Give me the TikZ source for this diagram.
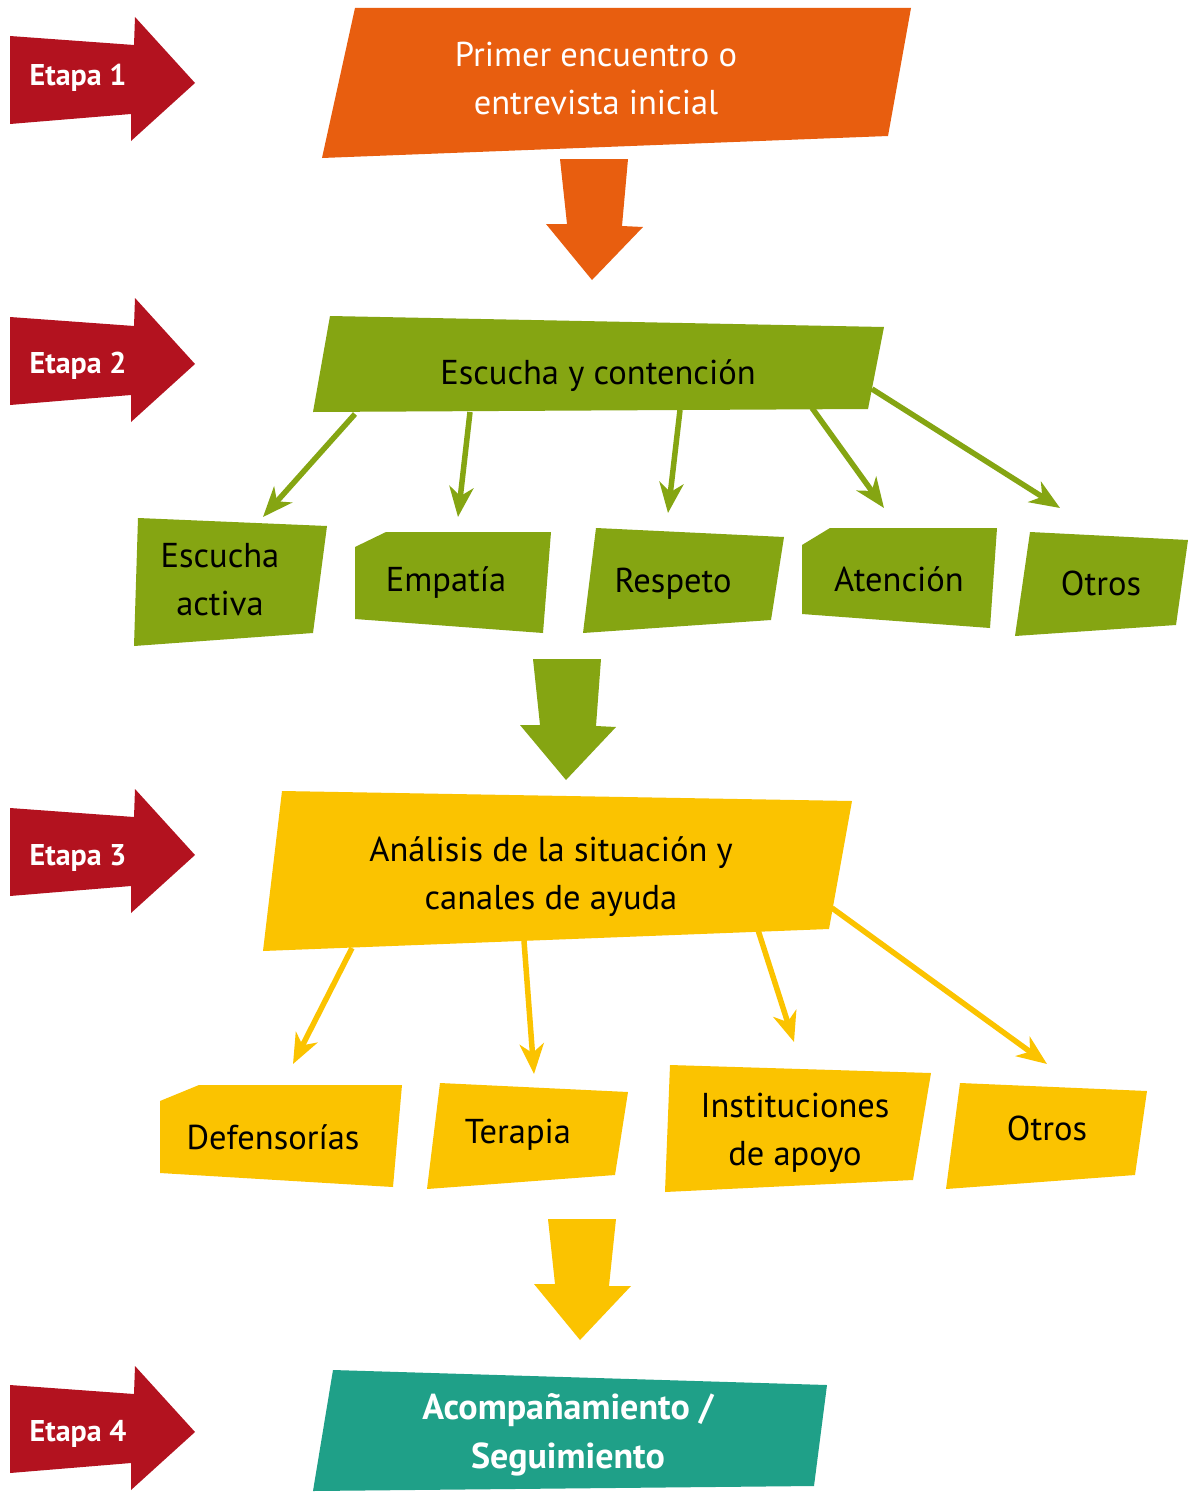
\documentclass[tikz,border=0pt]{standalone}
\usepackage{fontspec}
\setmainfont{PT Sans}
\usetikzlibrary{arrows.meta}
\definecolor{cOrange}{HTML}{E85E0F}
\definecolor{cGreen}{HTML}{85A512}
\definecolor{cYellow}{HTML}{FBC300}
\definecolor{cTeal}{HTML}{1FA088}
\definecolor{cRed}{HTML}{B3121F}
\tikzset{
  txt/.style={align=center, inner sep=0pt, yshift=-3pt, font=\fontsize{34.5}{48}\selectfont},
  wtxt/.style={txt, text=white},
  btxt/.style={txt, text=white, font=\fontsize{36}{49}\selectfont\bfseries},
  etxt/.style={inner sep=0pt, yshift=-3pt, text=white, font=\fontsize{30}{34}\selectfont\bfseries},
  garrow/.style={draw=cGreen, line width=5.5pt, -{Stealth[length=30pt, width=24pt, inset=9pt]}},
  yarrow/.style={draw=cYellow, line width=5.5pt, -{Stealth[length=30pt, width=24pt, inset=9pt]}},
}
\begin{document}
\begin{tikzpicture}[x=1pt,y=-1pt]
\useasboundingbox[fill=white] (0,0) rectangle (1192,1493);

% Etapa arrows
\foreach \dy/\n/\ty in {0/1/75,281/2/82,772/3/83,1349/4/82}{
  \begin{scope}[shift={(0,\dy)}]
    \fill[cRed] (10,36) -- (134,45) -- (135,17) -- (195,83) -- (131,141) -- (131,114) -- (10,124) -- cycle;
    \node[etxt] (e\n) at (78,\ty) {Etapa \n};
  \end{scope}
}

% Stage 1
\fill[cOrange] (355,8) -- (911,8) -- (888,136) -- (322,158) -- cycle;
\node[wtxt] (s1) at (596,75) {Primer encuentro o\\entrevista inicial};
\fill[cOrange] (560,159) -- (628,159) -- (622,226) -- (643,227) -- (592,280) -- (546,224) -- (567,224) -- cycle;

% Stage 2
\fill[cGreen] (330,316) -- (884,327) -- (868,409) -- (313,412) -- cycle;
\node[txt] (s2) at (598,373) {Escucha y contención};

\fill[cGreen] (138,518) -- (327,526) -- (313,633) -- (134,646) -- cycle;
\node[txt] (g1) at (220,577) {Escucha\\activa};
\fill[cGreen] (355,547) -- (386,532) -- (551,532) -- (543,633) -- (355,619) -- cycle;
\node[txt] (g2) at (446,580) {Empatía};
\fill[cGreen] (596,528) -- (784,537) -- (771,620) -- (583,633) -- cycle;
\node[txt] (g3) at (673,581) {Respeto};
\fill[cGreen] (802,545) -- (830,528) -- (997,528) -- (990,628) -- (802,614) -- cycle;
\node[txt] (g4) at (899,576) {Atención};
\fill[cGreen] (1030,532) -- (1188,540) -- (1176,625) -- (1015,636) -- cycle;
\node[txt] (g5) at (1101,580) {Otros};

\coordinate (ga1) at (355,414); \coordinate (gb1) at (263,517);
\coordinate (ga2) at (470,412); \coordinate (gb2) at (458,517);
\coordinate (ga3) at (680,410); \coordinate (gb3) at (668,513);
\coordinate (ga4) at (812,408); \coordinate (gb4) at (884,508);
\coordinate (ga5) at (872,389); \coordinate (gb5) at (1060,508);
\foreach \i in {1,...,5}{\draw[garrow] (ga\i) -- (gb\i);}

\fill[cGreen] (533,659) -- (601,659) -- (596,726) -- (616,727) -- (566,780) -- (520,725) -- (540,725) -- cycle;

% Stage 3
\fill[cYellow] (282,791) -- (852,801) -- (829,929) -- (263,951) -- cycle;
\node[txt] (s3) at (551,874) {Análisis de la situación y\\canales de ayuda};

\fill[cYellow] (160,1101) -- (199,1085) -- (402,1085) -- (393,1187) -- (160,1173) -- cycle;
\node[txt] (y1) at (273,1134) {Defensorías};
\fill[cYellow] (440,1083) -- (628,1092) -- (615,1175) -- (427,1189) -- cycle;
\node[txt] (y2) at (518,1132) {Terapia};
\fill[cYellow] (670,1065) -- (931,1073) -- (913,1180) -- (665,1192) -- cycle;
\node[txt] (y3) at (795,1130) {Instituciones\\de apoyo};
\fill[cYellow] (960,1083) -- (1147,1091) -- (1135,1175) -- (946,1189) -- cycle;
\node[txt] (y4) at (1047,1125) {Otros};

\coordinate (ya1) at (352,948); \coordinate (yb1) at (293,1064);
\coordinate (ya2) at (524,941); \coordinate (yb2) at (534,1074);
\coordinate (ya3) at (758,930); \coordinate (yb3) at (794,1042);
\coordinate (ya4) at (832,908); \coordinate (yb4) at (1047,1064);
\foreach \i in {1,...,4}{\draw[yarrow] (ya\i) -- (yb\i);}

\fill[cYellow] (548,1219) -- (616,1219) -- (609,1286) -- (631,1286) -- (580,1340) -- (534,1284) -- (555,1284) -- cycle;

% Stage 4
\fill[cTeal] (333,1370) -- (827,1385) -- (814,1486) -- (313,1491) -- cycle;
\node[btxt] (s4) at (568,1432) {Acompañamiento /\\Seguimiento};
\end{tikzpicture}
\end{document}
